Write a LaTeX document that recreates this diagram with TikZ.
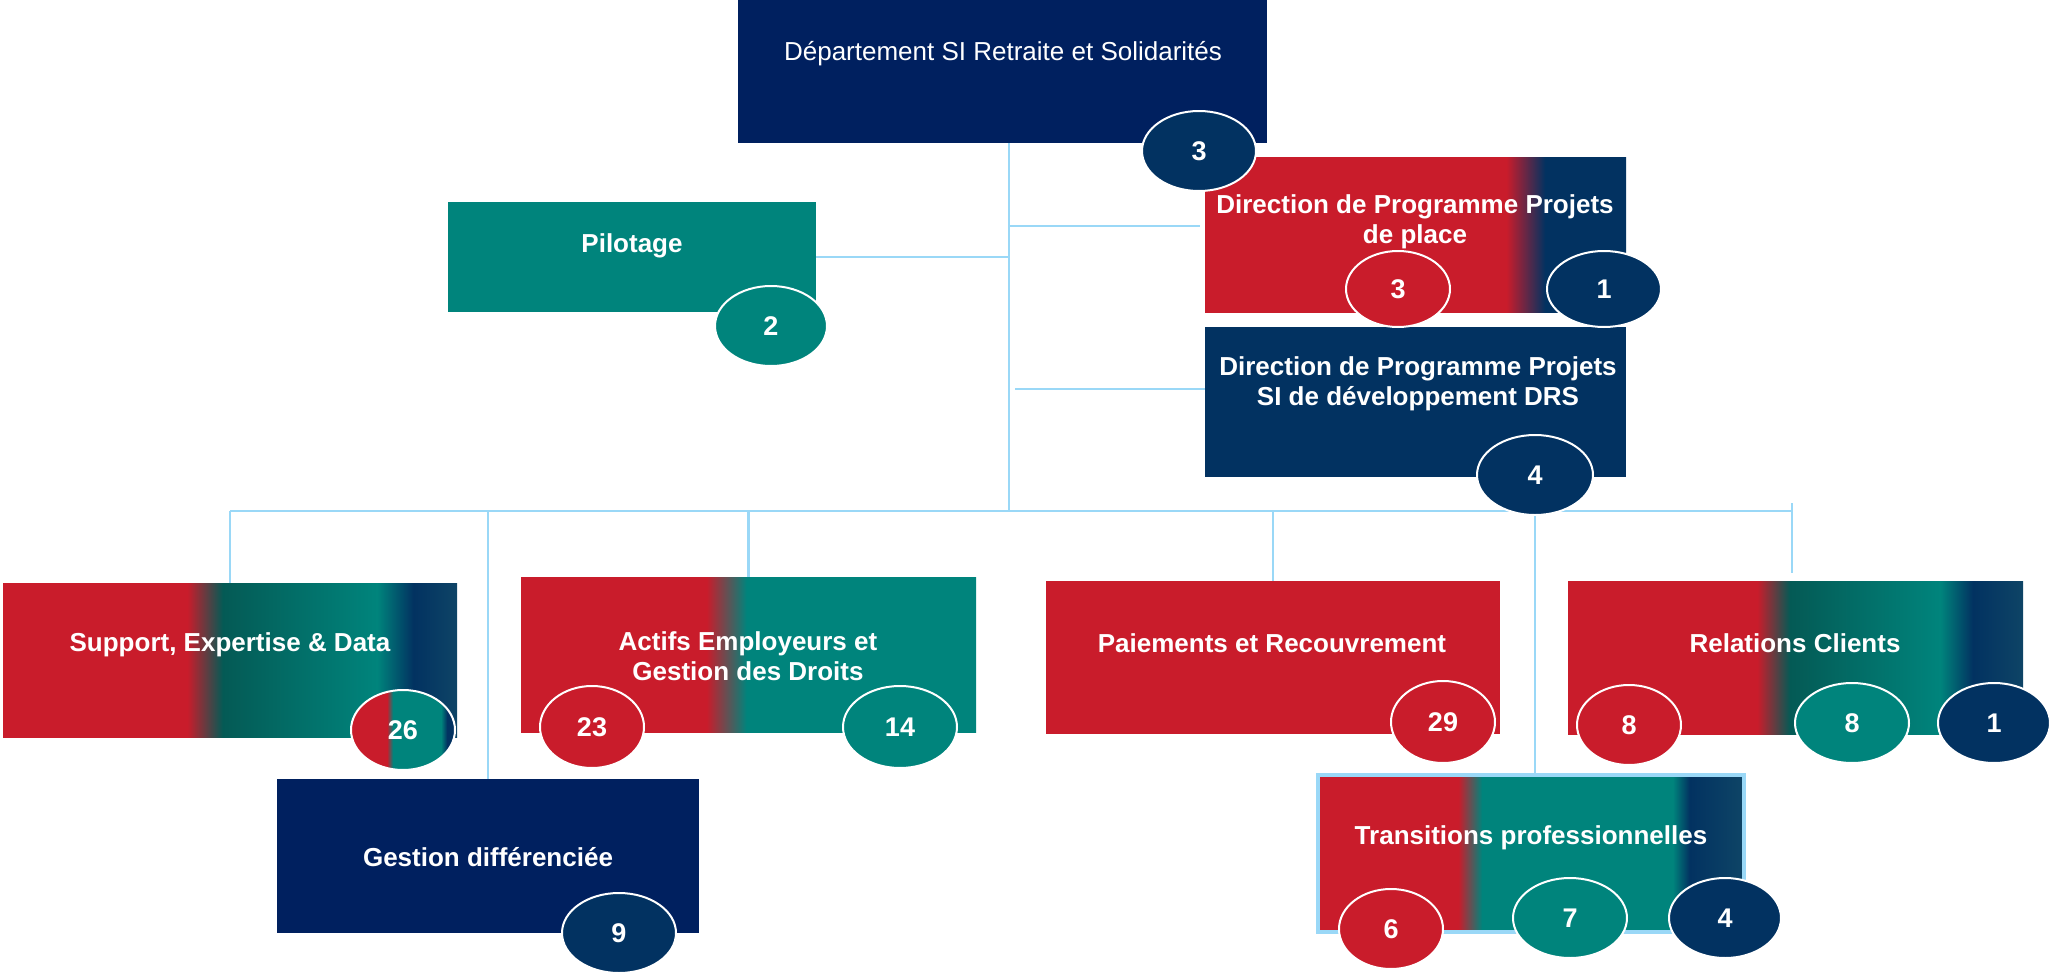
\documentclass[tikz,border=0pt]{standalone}
\usepackage{fontspec}
\setmainfont{Liberation Sans}
\usetikzlibrary{shapes.geometric,fit}
\definecolor{cred}{HTML}{C91C2B}
\definecolor{cteal}{HTML}{00847C}
\definecolor{cdteal}{HTML}{045A55}
\definecolor{cnavy}{HTML}{00205F}
\definecolor{cblue}{HTML}{023261}
\definecolor{cblueend}{HTML}{0E4466}
\definecolor{cline}{HTML}{9AD8F7}
\pgfdeclarehorizontalshading{supshade}{100bp}{color(0bp)=(cred); color(25bp)=(cred); color(45.3bp)=(cred); color(49.2bp)=(cdteal); color(66.2bp)=(cteal); color(70.2bp)=(cblue); color(75bp)=(cblueend); color(100bp)=(cblueend)}
\pgfdeclarehorizontalshading{relshade}{100bp}{color(0bp)=(cred); color(25bp)=(cred); color(45.8bp)=(cred); color(49.4bp)=(cdteal); color(65.9bp)=(cteal); color(69.5bp)=(cblue); color(75bp)=(cblueend); color(100bp)=(cblueend)}
\pgfdeclarehorizontalshading{actshade}{100bp}{color(0bp)=(cred); color(25bp)=(cred); color(45.4bp)=(cred); color(49.8bp)=(cteal); color(75bp)=(cteal); color(100bp)=(cteal)}
\pgfdeclarehorizontalshading{trashade}{100bp}{color(0bp)=(cred); color(25bp)=(cred); color(41.4bp)=(cred); color(44.2bp)=(cteal); color(66.8bp)=(cteal); color(68.8bp)=(cblue); color(75bp)=(cblueend); color(100bp)=(cblueend)}
\pgfdeclarehorizontalshading{dppshade}{100bp}{color(0bp)=(cred); color(25bp)=(cred); color(60.8bp)=(cred); color(65.4bp)=(cblue); color(75bp)=(cblue); color(100bp)=(cblue)}
\pgfdeclarehorizontalshading{splitshade}{100bp}{color(0bp)=(cred); color(25bp)=(cred); color(42.3bp)=(cred); color(45.2bp)=(cteal); color(68.3bp)=(cteal); color(71.2bp)=(cblue); color(75bp)=(cblue); color(100bp)=(cblue)}
\begin{document}
\begin{tikzpicture}[x=0.5pt,y=-0.5pt,
  conn/.style={draw=cline, line width=1.25pt},
  frame/.style={inner sep=0pt, outer sep=0pt, draw=none},
  lbl/.style={text=white, font=\fontsize{13}{15}\selectfont\bfseries, align=center},
  badge/.style={ellipse, draw=white, line width=1pt, text=white,
    font=\fontsize{13.5}{15}\selectfont\bfseries, inner sep=0pt,
    minimum width=56pt, minimum height=40pt},
  bsmall/.style={minimum width=52pt}
]
\useasboundingbox (0,0) rectangle (2053,975);

% ---------- boxes ----------
% top
\fill[cnavy] (738,0) rectangle (1267,143);
\node[frame, fit={(738,0)(1267,143)}] (top) {};
% pilotage
\fill[cteal] (448,202) rectangle (816,312);
\node[frame, fit={(448,202)(816,312)}] (pil) {};
% DP place
\shade[shading=dppshade] (1205,157) rectangle (1626,312);
\node[frame, fit={(1205,157)(1626,312)}] (dpp) {};
% DP SI
\fill[cblue] (1205,327) rectangle (1626,477);
\node[frame, fit={(1205,327)(1626,477)}] (dps) {};
% Support
\shade[shading=supshade] (3,583) rectangle (457,737);
\node[frame, fit={(3,583)(457,737)}] (sup) {};
% Actifs
\shade[shading=actshade] (521,577) rectangle (976,732);
\node[frame, fit={(521,577)(976,732)}] (act) {};
% Paiements
\fill[cred] (1046,581) rectangle (1500,734);
\node[frame, fit={(1046,581)(1500,734)}] (pai) {};
% Relations
\shade[shading=relshade] (1568,581) rectangle (2023,734);
\node[frame, fit={(1568,581)(2023,734)}] (rel) {};
% Gestion
\fill[cnavy] (277,779) rectangle (699,933);
\node[frame, fit={(277,779)(699,933)}] (ges) {};
% Transitions
\shade[shading=trashade] (1320,777) rectangle (1742,930);
\draw[cline, line width=2pt] (1318,775) rectangle (1744,932);
\node[frame, fit={(1318,775)(1744,932)}] (tra) {};

% ---------- connectors ----------
\coordinate (j1) at (1009,511);
\coordinate (hp) at (1200,226);
\coordinate (hs) at (1015,389);
\coordinate (bl) at (230,511);
\coordinate (br) at (1792,511);
\draw[conn] (top.south -| j1) -- (j1);
\draw[conn] (pil.east) -- (pil.east -| j1);
\draw[conn] (j1 |- hp) -- (hp);
\draw[conn] (hs) -- (dps.west |- hs);
\draw[conn] (bl) -- (br);
\draw[conn] (sup.north) -- (sup.north |- bl);
\draw[conn] (ges.north) -- (ges.north |- bl);
\draw[conn] (act.north) -- (act.north |- bl);
\draw[conn] (pai.north) -- (pai.north |- bl);
\draw[conn] ([yshift=4pt]br) -- ([yshift=4pt]rel.north -| br);

% ---------- labels ----------
\node[text=white, font=\fontsize{13}{15}\selectfont] (toptxt) at (1003,54) {Département SI Retraite et Solidarités};
\node[lbl] (piltxt) at (632,246) {Pilotage};
\node[lbl] (dpptxt) at (1415,222) {Direction de Programme Projets\\de place};
\node[lbl] (dpstxt) at (1418,384) {Direction de Programme Projets\\SI de développement DRS};
\node[lbl] (suptxt) at (230,645) {Support, Expertise \& Data};
\node[lbl] (acttxt) at (748,656) {Actifs Employeurs et\\Gestion des Droits};
\node[lbl] (paitxt) at (1272,643) {Paiements et Recouvrement};
\node[lbl] (reltxt) at (1795,643) {Relations Clients};
\node[lbl] (gestxt) at (488,857) {Gestion différenciée};
\node[lbl] (tratxt) at (1531,838) {Transitions professionnelles};

% ---------- badges ----------
\node[badge, fill=cblue, minimum width=57pt] (b3top) at (1199,151) {3};
\node[badge, fill=cteal] (b2) at (771,326) {2};
\node[badge, bsmall, fill=cred, minimum height=38pt] (b3p) at (1398,289) {3};
\node[badge, fill=cblue, minimum width=57pt, minimum height=38pt] (b1p) at (1604,289) {1};
\node[badge, fill=cblue, minimum width=58pt] (b4s) at (1535,475) {4};
\draw[conn] (b4s.south) -- (b4s.south |- tra.north);

% split badge 26
\node[badge, bsmall, shading=splitshade] (b26) at (403,730) {26};

\node[badge, bsmall, fill=cred, minimum height=41pt] (b23) at (592,727) {23};
\node[badge, fill=cteal, minimum width=57pt, minimum height=41pt] (b14) at (900,727) {14};
\node[badge, bsmall, fill=cred, minimum height=41pt] (b29) at (1443,722) {29};
\node[badge, bsmall, fill=cred] (b8r) at (1629,725) {8};
\node[badge, fill=cteal, minimum width=57pt] (b8t) at (1852,723) {8};
\node[badge, fill=cblue] (b1r) at (1994,723) {1};
\node[badge, fill=cblue, minimum width=57pt] (b9) at (619,933) {9};
\node[badge, bsmall, fill=cred] (b6) at (1391,929) {6};
\node[badge, fill=cteal, minimum width=57pt] (b7) at (1570,918) {7};
\node[badge, fill=cblue] (b4t) at (1725,918) {4};
\end{tikzpicture}
\end{document}
